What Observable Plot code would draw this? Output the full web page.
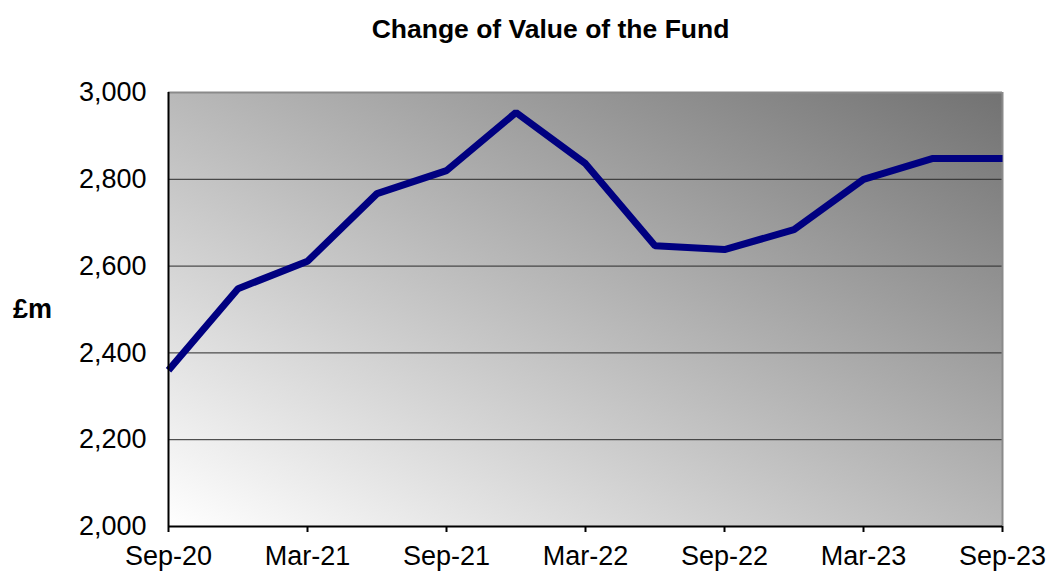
<!DOCTYPE html>
<html>
<head>
<meta charset="utf-8">
<script src="https://cdn.jsdelivr.net/npm/d3@7"></script>
<script src="https://cdn.jsdelivr.net/npm/@observablehq/plot@0.6"></script>
<style>
  body { margin: 0; background: #fff; }
  #chart svg { display: block; }
</style>
</head>
<body>
<div id="chart"></div>
<script>
const quarters = ["Sep-20","Dec-20","Mar-21","Jun-21","Sep-21","Dec-21","Mar-22","Jun-22","Sep-22","Dec-22","Mar-23","Jun-23","Sep-23"];
const fundValues = [2360, 2548, 2611, 2767, 2820, 2954, 2836, 2647, 2638, 2684, 2800, 2848, 2848];
const yTicks = [2000, 2200, 2400, 2600, 2800, 3000];
const xTickIdx = [0, 2, 4, 6, 8, 10, 12];
const title = "Change of Value of the Fund";
const yLabel = "£m";

const data = quarters.map((q, i) => ({i, q, v: fundValues[i]}));
const font = "Liberation Sans, Arial, sans-serif";

function background(index, scales, values, dim) {
  const svgNS = "http://www.w3.org/2000/svg";
  const g = document.createElementNS(svgNS, "g");
  const defs = document.createElementNS(svgNS, "defs");
  const lg = document.createElementNS(svgNS, "linearGradient");
  lg.setAttribute("id", "bgGrad");
  lg.setAttribute("x1", "0"); lg.setAttribute("y1", "1");
  lg.setAttribute("x2", "1"); lg.setAttribute("y2", "0");
  [["0%", "#ffffff"], ["100%", "#727272"]].forEach(([o, c]) => {
    const s = document.createElementNS(svgNS, "stop");
    s.setAttribute("offset", o); s.setAttribute("stop-color", c);
    lg.appendChild(s);
  });
  defs.appendChild(lg);
  g.appendChild(defs);
  const r = document.createElementNS(svgNS, "rect");
  r.setAttribute("x", dim.marginLeft);
  r.setAttribute("y", dim.marginTop);
  r.setAttribute("width", dim.width - dim.marginLeft - dim.marginRight);
  r.setAttribute("height", dim.height - dim.marginTop - dim.marginBottom);
  r.setAttribute("fill", "url(#bgGrad)");
  g.appendChild(r);
  return g;
}

const chart = Plot.plot({
  width: 1048,
  height: 572,
  marginLeft: 168,
  marginRight: 46,
  marginTop: 92,
  marginBottom: 46,
  style: {fontFamily: font, fontSize: "27px", color: "#000", background: "#fff"},
  x: {type: "linear", domain: [0, 12]},
  y: {domain: [2000, 3000]},
  marks: [
    background,
    Plot.ruleY([2200, 2400, 2600, 2800], {stroke: "#2a2a2a", strokeWidth: 1}),
    Plot.ruleY([3000], {stroke: "#8a8a8a", strokeWidth: 2}),
    Plot.ruleX([12], {stroke: "#8a8a8a", strokeWidth: 2}),
    Plot.axisY({ticks: yTicks, tickFormat: d3.format(","), tickSize: 0, tickPadding: 22, fontSize: 27, label: null}),
    Plot.axisX({ticks: xTickIdx, tickFormat: i => quarters[i], tickSize: 6, tickPadding: 13, fontSize: 27, label: null, strokeWidth: 2}),
    Plot.line(data, {x: "i", y: "v", stroke: "#000080", strokeWidth: 7, strokeLinejoin: "miter", strokeLinecap: "butt"}),
    Plot.ruleY([2000], {stroke: "#000", strokeWidth: 2}),
    Plot.ruleX([0], {stroke: "#000", strokeWidth: 2}),
    Plot.text([title], {frameAnchor: "top", dy: -63, dx: -35, text: d => d, fontSize: 26.5, fontWeight: "bold", fill: "#000", textAnchor: "middle", lineAnchor: "middle"}),
    Plot.text([yLabel], {frameAnchor: "left", dx: -136, text: d => d, fontSize: 27, fontWeight: "bold", fill: "#000", textAnchor: "middle"})
  ]
});
document.getElementById("chart").appendChild(chart);
</script>
</body>
</html>
